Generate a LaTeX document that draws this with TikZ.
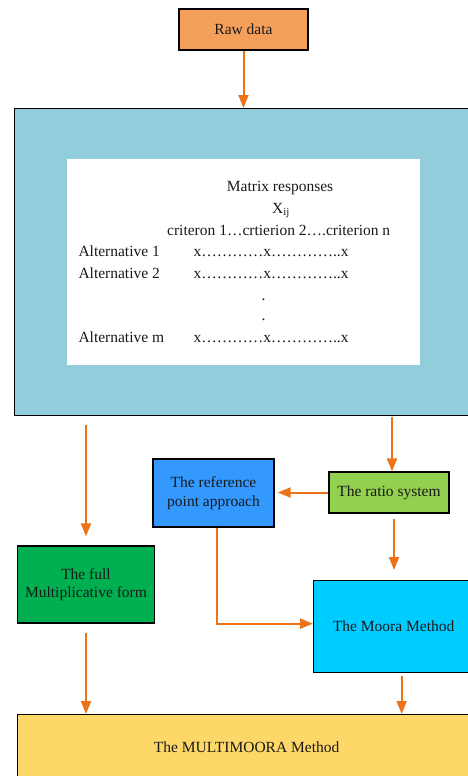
\documentclass[tikz,border=0pt]{standalone}
\usepackage{fontspec}
\setmainfont{Liberation Serif}
\usetikzlibrary{arrows.meta,calc}
\definecolor{rawc}{HTML}{F4A05A}
\definecolor{bigc}{HTML}{92CDDC}
\definecolor{fullc}{HTML}{00B050}
\definecolor{refc}{HTML}{3399FF}
\definecolor{ratioc}{HTML}{92D050}
\definecolor{moorac}{HTML}{00CCFF}
\definecolor{multic}{HTML}{FDD868}
\definecolor{arrowc}{HTML}{EC7318}
\definecolor{txtc}{HTML}{1A1A1A}
\begin{document}
\begin{tikzpicture}[x=1pt,y=-1pt,
  box/.style={draw=black,line width=1.3pt,inner sep=0pt,align=center,text=txtc,
    font=\fontsize{15.5}{18.5}\selectfont},
  mt/.style={inner sep=0pt,anchor=base west,text=txtc,font=\fontsize{15.5}{18}\selectfont},
  arr/.style={draw=arrowc,line width=2pt,-{Triangle[length=13pt,width=10pt]}}]
\useasboundingbox (0,0) rectangle (468,776);
\clip (0,0) rectangle (468,776);
\node[box,fill=rawc,minimum width=129pt,minimum height=41pt] (raw) at (243.5,29.5) {Raw data};
\node[box,fill=bigc,minimum width=470pt,minimum height=307pt,anchor=north west] (big) at (14,108) {};
\node[fill=white,inner sep=0pt,minimum width=353pt,minimum height=206pt,anchor=north west] (mat) at (67,159) {};
\node[mt] (t1) at (226.7,191.7) {Matrix responses};
\node[mt] (t2) at (272,213) {X\textsubscript{ij}};
\node[mt] (t3) at (167,235) {criteron 1…crtierion 2….criterion n};
\node[mt] (a1) at (78.3,256.7) {Alternative 1};
\node[mt] (r1) at (193.3,256.7) {x…………x…………..x};
\node[mt] (a2) at (78.3,278) {Alternative 2};
\node[mt] (r2) at (193.3,278) {x…………x…………..x};
\node[mt] (d1) at (261.5,300.7) {.};
\node[mt] (d2) at (261.5,320.7) {.};
\node[mt] (am) at (78.3,342.7) {Alternative m};
\node[mt] (rm) at (193.3,342.7) {x…………x…………..x};
\node[box,fill=fullc,minimum width=137pt,minimum height=77pt] (full) at (86,584.5) {The full\\Multiplicative form};
\node[box,fill=refc,minimum width=121pt,minimum height=68pt] (ref) at (213.5,493) {The reference\\point approach};
\node[box,fill=ratioc,minimum width=120pt,minimum height=41pt] (ratio) at (389,492.5) {The ratio system};
\node[box,fill=moorac,minimum width=160pt,minimum height=92pt,anchor=north west] (moora) at (313,580) {The Moora Method};
\node[box,fill=multic,minimum width=458pt,minimum height=66pt,anchor=north west] (multi) at (17,714) {The MULTIMOORA Method};
\draw[arr] (raw.south) -- (raw.south |- big.north);
\draw[arr] ($(big.south -| full.north)+(0,9)$) -- ($(full.north)+(0,-9)$);
\draw[arr] ($(big.south -| ratio.north)+(3,1)$) -- ($(ratio.north)+(3,0)$);
\draw[arr] (ratio.west) -- ($(ref.east |- ratio.west)+(3,0)$);
\draw[arr] ($(ratio.south)+(5,5)$) -- ($(ratio.south |- moora.north)+(5,-10)$);
\draw[arr] ($(ref.south)+(3.5,0)$) |- ($(moora.west)+(0,-3)$);
\draw[arr] ($(full.south)+(0,9)$) -- (full.south |- multi.north);
\draw[arr] ($(moora.south)+(8,3)$) -- ($(moora.south |- multi.north)+(8,0)$);
\end{tikzpicture}
\end{document}
